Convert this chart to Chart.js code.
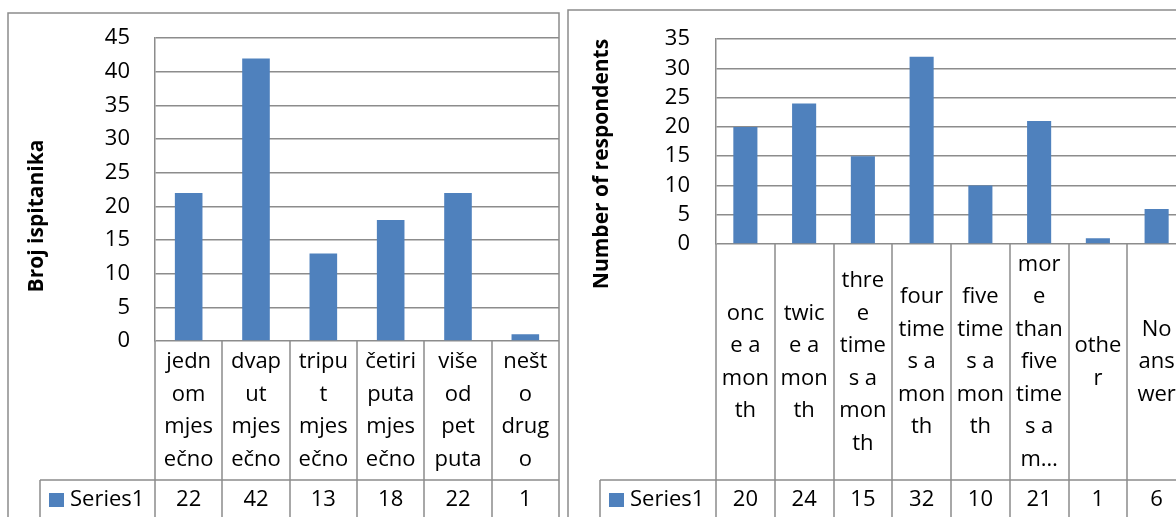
<!DOCTYPE html>
<html lang="en">
<head>
  <meta charset="UTF-8">
  <title>Broj ispitanika / Number of respondents</title>
  <script src="https://cdn.jsdelivr.net/npm/chart.js"></script>
  <style>
    html, body {
      margin: 0;
      padding: 0;
      background: #fff;
      width: 1176px;
      height: 517px;
      overflow: hidden;
    }
    .chart-box {
      position: absolute;
      top: 0;
      height: 517px;
    }
    #leftBox { left: 0; width: 570px; }
    #rightBox { left: 565px; width: 631px; }
  </style>
</head>
<body>

  <div class="chart-box" id="leftBox"><canvas id="leftChart"></canvas></div>
  <div class="chart-box" id="rightBox"><canvas id="rightChart"></canvas></div>

  <script>
    // Left chart data (wrapped the same way as the category cells)
    const leftLabels = [
      ['jedn', 'om', 'mjes', 'ečno'],
      ['dvap', 'ut', 'mjes', 'ečno'],
      ['tripu', 't', 'mjes', 'ečno'],
      ['četiri', 'puta', 'mjes', 'ečno'],
      ['više', 'od', 'pet', 'puta'],
      ['nešt', 'o', 'drug', 'o']
    ];
    const leftValues = [22, 42, 13, 18, 22, 1];
    const leftMax = 45;

    // Right chart data
    const rightLabels = [
      ['onc', 'e a', 'mon', 'th'],
      ['twic', 'e a', 'mon', 'th'],
      ['thre', 'e', 'time', 's a', 'mon', 'th'],
      ['four', 'time', 's a', 'mon', 'th'],
      ['five', 'time', 's a', 'mon', 'th'],
      ['mor', 'e', 'than', 'five', 'time', 's a', 'm…'],
      ['othe', 'r'],
      ['No', 'ans', 'wer']
    ];
    const rightValues = [20, 24, 15, 32, 10, 21, 1, 6];
    const rightMax = 35;

    const seriesName = 'Series1';
    const tickStep = 5;

    const BLUE = '#4F81BD';
    const LINE = '#8c8c8c';
    const FONT = "'Open Sans', sans-serif";

    Chart.defaults.font.family = FONT;
    Chart.defaults.color = '#000';

    // draws the frame, the data table under the plot and the axis title
    const dataTable = {
      id: 'dataTable',
      afterDraw(chart, args, opts) {
        const { ctx, chartArea: a, scales: { x } } = chart;
        const labels = chart.data.labels;
        const values = chart.data.datasets[0].data;
        const n = labels.length;
        const centers = labels.map((_, i) => x.getPixelForValue(i));
        const edges = [a.left];
        for (let i = 0; i < n - 1; i++) edges.push((centers[i] + centers[i + 1]) / 2);
        edges.push(a.right);
        const bottom = chart.height + 5;
        const px = v => Math.round(v);

        ctx.save();
        ctx.strokeStyle = LINE;
        ctx.lineWidth = 1.5;
        ctx.beginPath();
        // chart frame
        ctx.moveTo(px(opts.frame.left), bottom);
        ctx.lineTo(px(opts.frame.left), px(opts.frame.top));
        ctx.lineTo(px(opts.frame.right), px(opts.frame.top));
        ctx.lineTo(px(opts.frame.right), bottom);
        // table verticals
        edges.forEach(e => {
          ctx.moveTo(px(e), a.bottom);
          ctx.lineTo(px(e), bottom);
        });
        // series row
        ctx.moveTo(px(opts.seriesLeft), px(opts.rowTop));
        ctx.lineTo(a.right, px(opts.rowTop));
        ctx.moveTo(px(opts.seriesLeft), px(opts.rowTop));
        ctx.lineTo(px(opts.seriesLeft), bottom);
        ctx.stroke();

        // category cells
        ctx.fillStyle = '#000';
        ctx.font = '22px ' + FONT;
        ctx.textAlign = 'center';
        ctx.textBaseline = 'middle';
        const lh = 32.5;
        const mid = (a.bottom + opts.rowTop) / 2;
        labels.forEach((lines, i) => {
          const y0 = mid - (lines.length - 1) * lh / 2;
          lines.forEach((t, j) => ctx.fillText(t, centers[i], y0 + j * lh));
        });

        // values row
        const rowY = opts.rowTop + 20;
        values.forEach((v, i) => ctx.fillText(String(v), centers[i], rowY));
        ctx.fillStyle = BLUE;
        ctx.fillRect(opts.seriesLeft + 9, opts.rowTop + 13, 15, 14);
        ctx.fillStyle = '#000';
        ctx.textAlign = 'left';
        ctx.fillText(chart.data.datasets[0].label, opts.seriesLeft + 30, rowY);

        // axis title
        ctx.translate(opts.titleX, opts.titleY);
        ctx.rotate(-Math.PI / 2);
        ctx.textAlign = 'center';
        ctx.font = 'bold 21px ' + FONT;
        ctx.fillText(opts.title, 0, 0);
        ctx.restore();
      }
    };

    function makeChart(id, labels, values, max, yWidth, tickPad, padding, tableOpts) {
      return new Chart(document.getElementById(id), {
        type: 'bar',
        data: {
          labels: labels,
          datasets: [{
            label: seriesName,
            data: values,
            backgroundColor: BLUE,
            borderWidth: 0,
            barPercentage: 0.41,
            categoryPercentage: 1.0
          }]
        },
        options: {
          responsive: true,
          maintainAspectRatio: false,
          animation: false,
          layout: { padding: padding },
          plugins: {
            legend: { display: false },
            tooltip: { enabled: false },
            dataTable: tableOpts
          },
          scales: {
            x: { display: false },
            y: {
              min: 0,
              max: max,
              afterFit(scale) { scale.width = yWidth; },
              ticks: {
                stepSize: tickStep,
                padding: tickPad,
                color: '#000',
                font: { size: 22 }
              },
              grid: { color: LINE, lineWidth: 1.5, drawTicks: false },
              border: { display: true, color: LINE, width: 1.5 }
            }
          }
        },
        plugins: [dataTable]
      });
    }

    makeChart('leftChart', leftLabels, leftValues, leftMax, 155, 25,
      { left: 0, top: 30, right: 11, bottom: 176 },
      { frame: { left: 8, top: 13, right: 559 }, seriesLeft: 40, rowTop: 480,
        title: 'Broj ispitanika', titleX: 37, titleY: 216 });

    makeChart('rightChart', rightLabels, rightValues, rightMax, 151, 26,
      { left: 0, top: 26, right: 10, bottom: 273 },
      { frame: { left: 3, top: 10, right: 700 }, seriesLeft: 35, rowTop: 480,
        title: 'Number of respondents', titleX: 37, titleY: 164 });
  </script>
</body>
</html>
